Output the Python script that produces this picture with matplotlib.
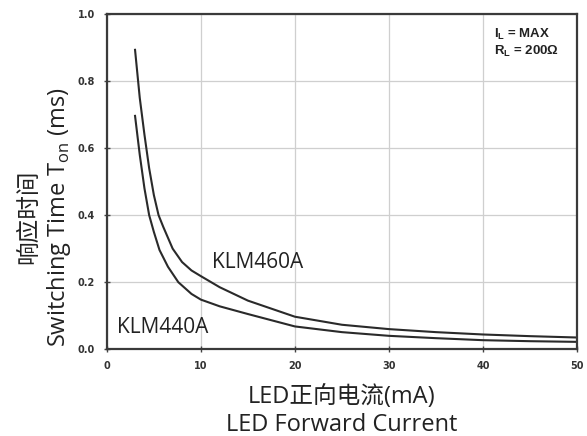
import matplotlib
matplotlib.use("Agg")
import matplotlib.pyplot as plt

# KLM460A (upper curve)
x_460 = [3, 3.5, 4, 4.5, 5, 5.5, 6, 7, 8, 9, 10, 12, 15, 20, 25, 30, 35, 40, 45, 50]
y_460 = [0.893, 0.75, 0.64, 0.54, 0.46, 0.40, 0.365, 0.30, 0.26, 0.235, 0.218,
         0.185, 0.145, 0.097, 0.073, 0.060, 0.051, 0.044, 0.039, 0.035]

# KLM440A (lower curve)
x_440 = [3, 3.5, 4, 4.5, 5, 5.6, 6.5, 7.6, 9, 10, 12, 15, 20, 25, 30, 35, 40, 45, 50]
y_440 = [0.696, 0.58, 0.48, 0.40, 0.35, 0.296, 0.246, 0.20, 0.165, 0.148, 0.128,
         0.105, 0.068, 0.051, 0.040, 0.033, 0.027, 0.024, 0.022]

x_ticks = [0, 10, 20, 30, 40, 50]
y_ticks = [0.0, 0.2, 0.4, 0.6, 0.8, 1.0]

txt = ["Open Sans", "Noto Sans CJK SC", "DejaVu Sans"]
tick_font = "DejaVu Sans"

fig = plt.figure(figsize=(5.87, 4.36), dpi=100)
ax = fig.add_axes([0.182, 0.199, 0.801, 0.769])

ax.plot(x_460, y_460, color="#2a2a2a", lw=1.5)
ax.plot(x_440, y_440, color="#2a2a2a", lw=1.5)

ax.set_xlim(0, 50)
ax.set_ylim(0, 1.0)
ax.set_xticks(x_ticks)
ax.set_yticks(y_ticks)
ax.set_xticklabels([str(v) for v in x_ticks], fontsize=7, fontweight="bold",
                   family=tick_font, color="#333333")
ax.set_yticklabels([f"{v:.1f}" for v in y_ticks], fontsize=7, fontweight="bold",
                   family=tick_font, color="#333333")
ax.tick_params(direction="inout", length=5, width=1, color="#444444", pad=6)
ax.grid(color="#cfcfcf", lw=0.9)
for s in ax.spines.values():
    s.set_color("#3a3a3a")
    s.set_linewidth(1.6)

ax.text(11.2, 0.258, "KLM460A", fontsize=15, family=txt, color="#222222",
        va="center")
ax.text(1.1, 0.065, "KLM440A", fontsize=15, family=txt, color="#222222",
        va="center")

ax.text(0.823, 0.962, "I$_\\mathregular{L}$ = MAX\nR$_\\mathregular{L}$ = 200Ω",
        transform=ax.transAxes, va="top", ha="left", fontsize=9.5,
        fontweight="bold", family="Liberation Sans", color="#222222",
        linespacing=1.15)

ax.set_xlabel("LED正向电流(mA)\nLED Forward Current", fontsize=17,
              family=txt, color="#222222", labelpad=10, linespacing=1.2)
ax.set_ylabel("响应时间\nSwitching Time T$_\\mathregular{on}$ (ms)", fontsize=17,
              family=txt, color="#222222", linespacing=1.2)
ax.yaxis.set_label_coords(-0.071, 0.395)

fig.savefig("out.png", dpi=100)
